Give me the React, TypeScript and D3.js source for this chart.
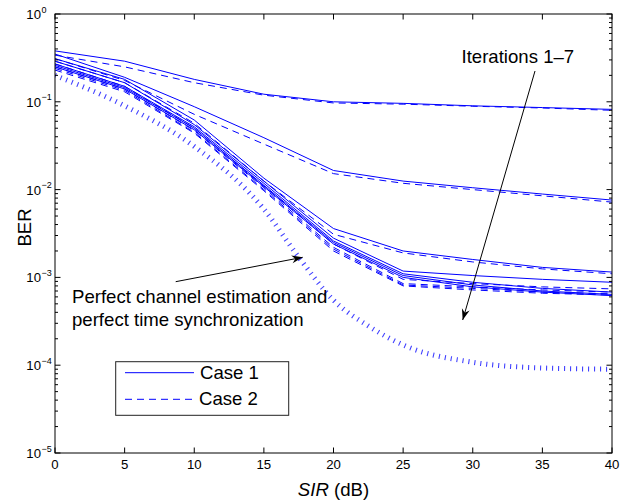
import React from "react";
import * as d3 from "d3";

// SIR grid (dB) for the simulated BER curves
const sir = [0, 5, 10, 15, 20, 25, 30, 35, 40];

// Case 1 (solid) and Case 2 (dashed), iterations 1–7
const iter1Case1 = [0.38, 0.29, 0.18, 0.122, 0.1, 0.096, 0.09, 0.086, 0.082];
const iter1Case2 = [0.34, 0.25, 0.165, 0.119, 0.097, 0.094, 0.089, 0.085, 0.08];
const iter2Case1 = [0.35, 0.19, 0.088, 0.039, 0.0165, 0.0125, 0.0105, 0.0089, 0.0076];
const iter2Case2 = [0.31, 0.175, 0.072, 0.033, 0.0152, 0.0118, 0.01, 0.0085, 0.0072];
const iter3Case1 = [0.31, 0.18, 0.062, 0.0135, 0.0036, 0.002, 0.0016, 0.0013, 0.00115];
const iter3Case2 = [0.29, 0.165, 0.057, 0.0125, 0.0031, 0.0019, 0.0015, 0.00125, 0.0011];
const iter4Case1 = [0.29, 0.165, 0.055, 0.0125, 0.0028, 0.00118, 0.00105, 0.00095, 0.00088];
const iter4Case2 = [0.27, 0.15, 0.05, 0.011, 0.0024, 0.00095, 0.00085, 0.00078, 0.00074];
const iter5Case1 = [0.27, 0.15, 0.052, 0.0118, 0.0026, 0.0011, 0.00088, 0.00075, 0.00068];
const iter5Case2 = [0.25, 0.14, 0.047, 0.0105, 0.0022, 0.00085, 0.00078, 0.00072, 0.00068];
const iter6Case1 = [0.26, 0.145, 0.05, 0.0112, 0.0025, 0.00105, 0.00082, 0.0007, 0.00064];
const iter6Case2 = [0.24, 0.135, 0.045, 0.01, 0.0021, 0.00082, 0.00075, 0.00068, 0.00065];
const iter7Case1 = [0.25, 0.14, 0.048, 0.0108, 0.0024, 0.001, 0.00078, 0.00068, 0.00062];
const iter7Case2 = [0.23, 0.13, 0.044, 0.0097, 0.002, 0.0008, 0.00072, 0.00066, 0.00063];

// Perfect channel estimation and time synchronization reference
const perfectSir = [0, 5, 10, 15, 17.5, 20, 22.5, 25, 30, 35, 40];
const perfectBer = [0.2, 0.09, 0.031, 0.006, 0.0017, 0.00055, 0.00028, 0.00017, 0.000108, 0.000093, 0.00009];

const xTicks = [0, 5, 10, 15, 20, 25, 30, 35, 40];
const yDecades = [0, -1, -2, -3, -4, -5];
const legendLabels = ["Case 1", "Case 2"];

const caseOne = [iter1Case1, iter2Case1, iter3Case1, iter4Case1, iter5Case1, iter6Case1, iter7Case1];
const caseTwo = [iter1Case2, iter2Case2, iter3Case2, iter4Case2, iter5Case2, iter6Case2, iter7Case2];

const W = 634;
const H = 504;
const M = { left: 55, right: 612, top: 14, bottom: 453 };
const BLUE = "#0000ff";
const FONT = "'Liberation Sans', Arial, Helvetica, sans-serif";
const LABEL_SIZE = 18.6;

export default function App() {
  const x = d3.scaleLinear().domain([0, 40]).range([M.left, M.right]);
  const y = d3.scaleLog().domain([1e-5, 1]).range([M.bottom, M.top]);

  const line = d3
    .line<[number, number]>()
    .x((d) => x(d[0]))
    .y((d) => y(d[1]));

  const smooth = d3
    .line<[number, number]>()
    .x((d) => x(d[0]))
    .y((d) => y(d[1]))
    .curve(d3.curveMonotoneX);

  const toPts = (vals: number[]) => sir.map((s, i) => [s, vals[i]] as [number, number]);
  const perfectPts = perfectSir.map((s, i) => [s, perfectBer[i]] as [number, number]);

  const minorTicks: number[] = [];
  for (let e = -5; e < 0; e++) {
    for (let m = 2; m <= 9; m++) minorTicks.push(m * Math.pow(10, e));
  }

  const majorLen = 5.5;
  const minorLen = 3;

  return (
    <svg
      width={W}
      height={H}
      style={{ position: "absolute", left: 0, top: 0, background: "#fff" }}
      fontFamily={FONT}
    >
      <defs>
        <clipPath id="plotArea">
          <rect x={M.left} y={M.top} width={M.right - M.left} height={M.bottom - M.top} />
        </clipPath>
        <marker
          id="arrowHead"
          markerUnits="userSpaceOnUse"
          markerWidth={14}
          markerHeight={12}
          viewBox="-12 -6 14 12"
          refX={0}
          refY={0}
          orient="auto"
        >
          <path d="M0,0 L-11,-4 L-7.5,0 L-11,4 Z" fill="#000" />
        </marker>
      </defs>

      <rect x={0} y={0} width={W} height={H} fill="#fff" />

      <g clipPath="url(#plotArea)">
        {/* perfect-sync reference, heavy dotted */}
        <path
          d={smooth(perfectPts) || ""}
          fill="none"
          stroke={BLUE}
          strokeOpacity={0.75}
          strokeWidth={5}
          strokeDasharray="1.1 4.9"
        />
        {caseTwo.map((vals, i) => (
          <path
            key={"c2-" + i}
            d={line(toPts(vals)) || ""}
            fill="none"
            stroke={BLUE}
            strokeWidth={1}
            strokeDasharray="7 5"
          />
        ))}
        {caseOne.map((vals, i) => (
          <path key={"c1-" + i} d={line(toPts(vals)) || ""} fill="none" stroke={BLUE} strokeWidth={1} />
        ))}
      </g>

      {/* axes box */}
      <rect
        x={M.left}
        y={M.top}
        width={M.right - M.left}
        height={M.bottom - M.top}
        fill="none"
        stroke="#000"
        strokeWidth={1}
      />

      {/* x ticks, bottom and top, inward */}
      {xTicks.map((t) => (
        <g key={"xt" + t}>
          <line x1={x(t)} x2={x(t)} y1={M.bottom} y2={M.bottom - majorLen} stroke="#000" />
          <line x1={x(t)} x2={x(t)} y1={M.top} y2={M.top + majorLen} stroke="#000" />
          <text x={x(t)} y={469} fontSize={13.2} textAnchor="middle" fill="#000">
            {t}
          </text>
        </g>
      ))}

      {/* y major ticks and labels */}
      {yDecades.map((e) => {
        const yy = y(Math.pow(10, e));
        return (
          <g key={"yt" + e}>
            <line x1={M.left} x2={M.left + majorLen} y1={yy} y2={yy} stroke="#000" />
            <line x1={M.right} x2={M.right - majorLen} y1={yy} y2={yy} stroke="#000" />
            <text x={41} y={yy + 5} fontSize={13.2} textAnchor="end" fill="#000">
              10
            </text>
            <text x={41.5} y={yy - 1.5} fontSize={9} textAnchor="start" fill="#000">
              {e === 0 ? "0" : "\u2212" + Math.abs(e)}
            </text>
          </g>
        );
      })}

      {/* y minor ticks */}
      {minorTicks.map((v, i) => (
        <g key={"ym" + i}>
          <line x1={M.left} x2={M.left + minorLen} y1={y(v)} y2={y(v)} stroke="#000" />
          <line x1={M.right} x2={M.right - minorLen} y1={y(v)} y2={y(v)} stroke="#000" />
        </g>
      ))}

      {/* axis titles */}
      <text x={(M.left + M.right) / 2} y={496} fontSize={LABEL_SIZE} textAnchor="middle" fill="#000">
        <tspan fontStyle="italic">SIR</tspan> (dB)
      </text>
      <text
        transform={`translate(31, ${(M.top + M.bottom) / 2 - 6}) rotate(-90)`}
        fontSize={LABEL_SIZE}
        textAnchor="middle"
        fill="#000"
      >
        BER
      </text>

      {/* annotations */}
      <text x={461.5} y={62.7} fontSize={LABEL_SIZE} fill="#000">
        Iterations 1–7
      </text>
      <line x1={535} y1={71} x2={462.7} y2={320} stroke="#000" strokeWidth={1} markerEnd="url(#arrowHead)" />

      <text x={72} y={303.3} fontSize={LABEL_SIZE} fill="#000">
        Perfect channel estimation and
      </text>
      <text x={72} y={326} fontSize={LABEL_SIZE} fill="#000">
        perfect time synchronization
      </text>
      <line x1={175.7} y1={281.7} x2={302.7} y2={257.3} stroke="#000" strokeWidth={1} markerEnd="url(#arrowHead)" />

      {/* legend */}
      <rect x={115.7} y={361.7} width={173} height={53.6} fill="#fff" stroke="#222" strokeWidth={1} />
      <line x1={125} x2={194} y1={372.7} y2={372.7} stroke={BLUE} strokeWidth={1} />
      <line x1={125} x2={194} y1={399.3} y2={399.3} stroke={BLUE} strokeWidth={1} strokeDasharray="7 5" />
      <text x={200} y={378.5} fontSize={LABEL_SIZE} fill="#000">
        {legendLabels[0]}
      </text>
      <text x={199} y={404.5} fontSize={LABEL_SIZE} fill="#000">
        {legendLabels[1]}
      </text>
    </svg>
  );
}
